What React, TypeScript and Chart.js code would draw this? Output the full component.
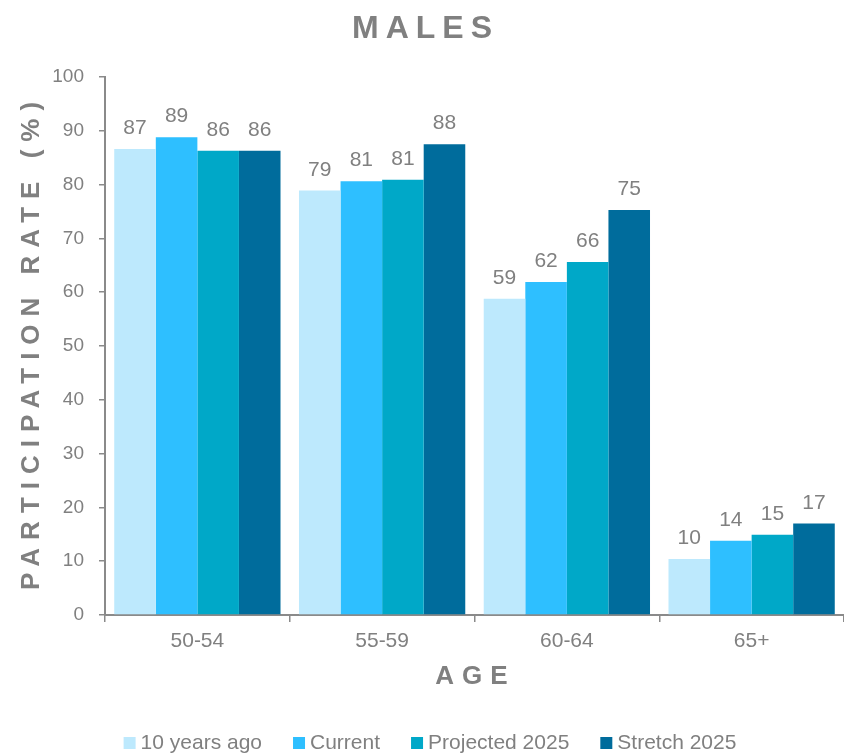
import React, { useEffect, useRef } from "react";
import { Chart, registerables } from "chart.js";

Chart.register(...registerables);

// Age groups on the x axis
const ageGroups = ["50-54", "55-59", "60-64", "65+"];

// Participation rate (%) by series
const tenYearsAgo = [86.6, 78.9, 58.8, 10.4];
const current = [88.8, 80.6, 61.9, 13.8];
const projected2025 = [86.3, 80.9, 65.6, 14.9];
const stretch2025 = [86.3, 87.5, 75.3, 17.0];

const seriesNames = ["10 years ago", "Current", "Projected 2025", "Stretch 2025"];
const seriesColors = ["#bde9fd", "#2ebfff", "#00a8c8", "#006c9c"];

const yTicks = { min: 0, max: 100, step: 10 };

const FONT = "'Liberation Sans', Arial, Helvetica, sans-serif";
const GREY = "#808080";
const AXIS_GREY = "#8a8a8a";

// Draws text with tracking, centred on (cx, y)
function spacedText(
  ctx: CanvasRenderingContext2D,
  text: string,
  cx: number,
  y: number,
  spacing: number
) {
  (ctx as any).letterSpacing = spacing + "px";
  const w = ctx.measureText(text).width;
  ctx.textAlign = "left";
  ctx.fillText(text, cx - (w - spacing) / 2, y);
  (ctx as any).letterSpacing = "0px";
}

const valueLabels = {
  id: "valueLabels",
  afterDatasetsDraw(chart: any) {
    const ctx: CanvasRenderingContext2D = chart.ctx;
    ctx.save();
    ctx.font = `21px ${FONT}`;
    ctx.fillStyle = GREY;
    ctx.textAlign = "center";
    ctx.textBaseline = "alphabetic";
    chart.data.datasets.forEach((ds: any, i: number) => {
      const meta = chart.getDatasetMeta(i);
      meta.data.forEach((bar: any, j: number) => {
        ctx.fillText(String(Math.round(ds.data[j])), bar.x, bar.y - 15);
      });
    });
    ctx.restore();
  },
};

const titlesAndLegend = {
  id: "titlesAndLegend",
  afterDraw(chart: any) {
    const ctx: CanvasRenderingContext2D = chart.ctx;
    const area = chart.chartArea;
    ctx.save();
    ctx.fillStyle = GREY;
    ctx.textBaseline = "alphabetic";

    // Chart title
    ctx.font = `bold 32px ${FONT}`;
    spacedText(ctx, "MALES", chart.width / 2, 38, 7);

    // X axis title
    ctx.font = `bold 26px ${FONT}`;
    spacedText(ctx, "AGE", (area.left + area.right) / 2 - 3, 684, 8);

    // Y axis title
    ctx.save();
    ctx.translate(39, (area.top + area.bottom) / 2);
    ctx.rotate(-Math.PI / 2);
    spacedText(ctx, "PARTICIPATION RATE (%)", 0, 0, 8);
    ctx.restore();

    // Legend
    ctx.font = `21px ${FONT}`;
    const box = 12;
    const boxGap = 5;
    const itemGap = 31;
    const widths = seriesNames.map((n) => box + boxGap + ctx.measureText(n).width);
    const total = widths.reduce((a, b) => a + b, 0) + itemGap * (seriesNames.length - 1);
    let x = 430 - total / 2;
    const baseline = 749;
    seriesNames.forEach((name, i) => {
      ctx.fillStyle = seriesColors[i];
      ctx.fillRect(x, baseline - box, box, box);
      ctx.fillStyle = GREY;
      ctx.textAlign = "left";
      ctx.fillText(name, x + box + boxGap, baseline);
      x += widths[i] + itemGap;
    });
    ctx.restore();
  },
};

export default function App() {
  const canvasRef = useRef<HTMLCanvasElement | null>(null);

  useEffect(() => {
    document.body.style.margin = "0";
    const canvas = canvasRef.current;
    if (!canvas) return;
    const seriesData = [tenYearsAgo, current, projected2025, stretch2025];
    const chart = new Chart(canvas, {
      type: "bar",
      data: {
        labels: ageGroups,
        datasets: seriesNames.map((name, i) => ({
          label: name,
          data: seriesData[i],
          backgroundColor: seriesColors[i],
          borderWidth: 0,
          categoryPercentage: 0.9,
          barPercentage: 1.0,
        })),
      },
      options: {
        responsive: false,
        animation: false,
        layout: { padding: { top: 77, left: 0, right: 0, bottom: 0 } },
        plugins: {
          legend: { display: false },
          title: { display: false },
          tooltip: { enabled: false },
        },
        scales: {
          x: {
            grid: {
              drawOnChartArea: false,
              drawTicks: true,
              tickLength: 7,
              color: AXIS_GREY,
              lineWidth: 1.5,
            },
            border: { color: AXIS_GREY, width: 2 },
            ticks: {
              color: GREY,
              font: { family: FONT, size: 21 },
              padding: 7,
            },
            afterFit(scale: any) {
              scale.height = 140;
            },
          },
          y: {
            min: yTicks.min,
            max: yTicks.max,
            grid: {
              drawOnChartArea: false,
              drawTicks: true,
              tickLength: 6,
              color: AXIS_GREY,
              lineWidth: 1.5,
            },
            border: { color: AXIS_GREY, width: 2 },
            ticks: {
              stepSize: yTicks.step,
              color: GREY,
              font: { family: FONT, size: 19 },
              padding: 15,
            },
            afterFit(scale: any) {
              scale.width = 105;
            },
          },
        },
      },
      plugins: [valueLabels, titlesAndLegend],
    });
    return () => chart.destroy();
  }, []);

  return (
    <div style={{ width: 844, height: 755 }}>
      <canvas ref={canvasRef} width={844} height={755} />
    </div>
  );
}
